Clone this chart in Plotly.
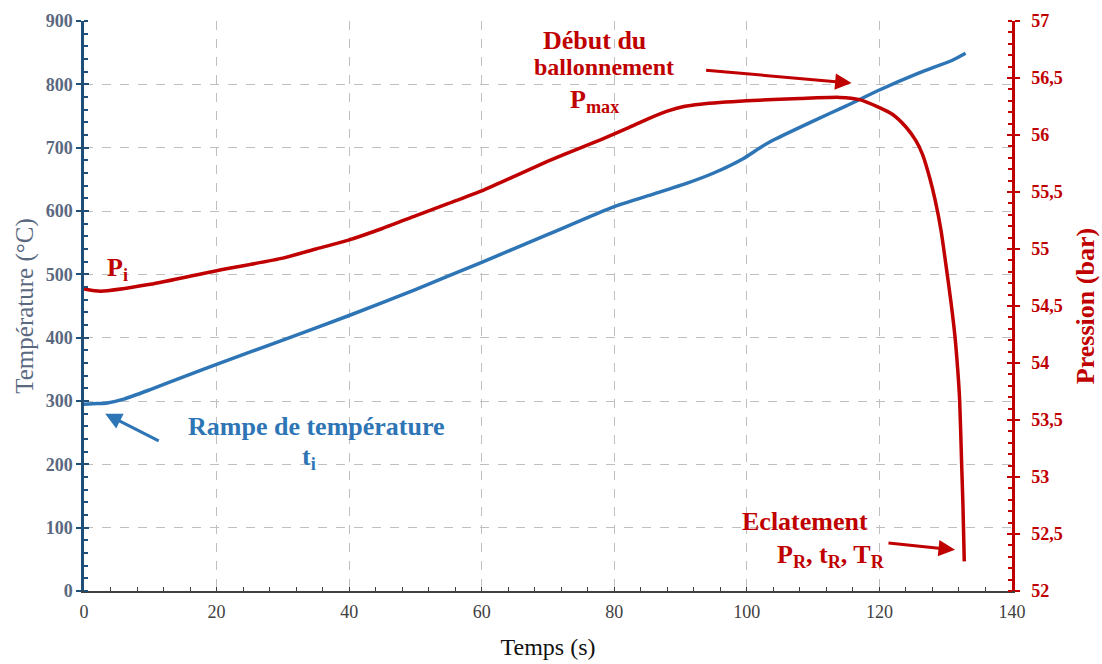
import plotly.graph_objects as go

# Temperature ramp (°C) versus time (s)
t_temp = [0, 2, 3.5, 6, 10, 15, 20, 30, 40, 50, 60, 70, 80, 86, 91, 95, 99.5, 102, 104,
          110, 115, 120, 126, 131, 133]
temperature = [295, 296, 297, 303, 318, 338, 358, 396, 435, 476, 519, 563, 607, 627, 644,
               660, 683, 700, 712, 742, 766, 791, 818, 838, 849]

# Internal pressure (bar) versus time (s)
t_pres = [0, 2.5, 10, 20, 30, 35, 40, 45, 50, 55, 60, 65, 70, 75, 78, 82, 85, 88, 90.5, 93,
          100, 108, 114, 117, 120, 122, 124, 125.5, 126.5, 127.6, 128.4, 129.3, 130.2,
          130.8, 131.4, 131.8, 132.1, 132.4, 132.6, 132.8]
pressure = [54.65, 54.63, 54.69, 54.81, 54.92, 55.00, 55.08, 55.18, 55.29, 55.40, 55.51,
            55.64, 55.77, 55.89, 55.96, 56.06, 56.14, 56.21, 56.25, 56.27, 56.30, 56.32,
            56.33, 56.31, 56.24, 56.18, 56.07, 55.95, 55.83, 55.62, 55.43, 55.16, 54.79,
            54.53, 54.23, 53.95, 53.68, 53.12, 52.75, 52.26]

# Axis ranges
time_range = [0, 140]
temp_range = [0, 900]
pres_range = [52, 57]

SERIF = "Liberation Serif"
BLUE = "#2E75B6"
RED = "#C00000"
NAVY = "#1F4E79"
SLATE = "#5A6880"
GRID = "#BFBFBF"

fig = go.Figure()
fig.add_trace(go.Scatter(x=t_temp, y=temperature, mode="lines",
                         line=dict(color=BLUE, width=3.5, shape="spline", smoothing=0.6),
                         yaxis="y", name="Température"))
fig.add_trace(go.Scatter(x=t_pres, y=pressure, mode="lines",
                         line=dict(color=RED, width=3.5, shape="spline", smoothing=0.6),
                         yaxis="y2", name="Pression"))

fig.update_layout(
    width=1102, height=664,
    margin=dict(l=84, r=90, t=21, b=73),
    paper_bgcolor="white", plot_bgcolor="white",
    showlegend=False,
    separators=", ",
    font=dict(family=SERIF),
    xaxis=dict(
        range=time_range, dtick=20, tick0=0, automargin=False,
        ticks="inside", ticklen=4, tickwidth=1.2, tickcolor="#404040",
        minor=dict(dtick=4, ticks="inside", ticklen=4, tickwidth=1.2,
                   tickcolor="#404040", showgrid=False),
        showline=True, linecolor="#404040", linewidth=1.5,
        showgrid=True, gridcolor=GRID, griddash="dash", gridwidth=1,
        zeroline=False,
        ticklabelstandoff=4,
        tickfont=dict(family=SERIF, size=18, color="#404040"),
        title=dict(text="Temps (s)", font=dict(family=SERIF, size=24, color="#111111"),
                   standoff=17),
    ),
    yaxis=dict(
        range=temp_range, dtick=100, tick0=0, automargin=False,
        ticks="outside", ticklen=5, tickwidth=2, tickcolor=NAVY,
        minor=dict(dtick=20, ticks="inside", ticklen=4, tickwidth=1.5,
                   tickcolor=NAVY, showgrid=False),
        showline=True, linecolor=NAVY, linewidth=2.5,
        showgrid=True, gridcolor=GRID, griddash="dash", gridwidth=1,
        zeroline=False,
        tickfont=dict(family=SERIF, size=18, color=SLATE, weight="bold"),
        title=dict(text="Température (°C)", font=dict(family=SERIF, size=25, color=SLATE),
                   standoff=5),
    ),
    yaxis2=dict(
        range=pres_range, dtick=0.5, tick0=52, overlaying="y", side="right", anchor="x",
        automargin=False,
        ticks="outside", ticklen=5, tickwidth=2, tickcolor=RED,
        minor=dict(dtick=0.1, ticks="inside", ticklen=4, tickwidth=1.5,
                   tickcolor=RED, showgrid=False),
        showline=True, linecolor=RED, linewidth=2.5,
        showgrid=False, zeroline=False,
        ticklabelstandoff=8,
        tickfont=dict(family=SERIF, size=18, color=RED, weight="bold"),
        title=dict(text="<b>Pression (bar)</b>", font=dict(family=SERIF, size=26, color=RED),
                   standoff=14),
    ),
    # inner halves of the major ticks, so they cross the axis lines
    yaxis3=dict(range=temp_range, dtick=100, tick0=0, overlaying="y", side="left",
                anchor="x", automargin=False, ticks="inside", ticklen=5, tickwidth=2,
                tickcolor=NAVY, showticklabels=False, showgrid=False, showline=False,
                zeroline=False),
    yaxis4=dict(range=pres_range, dtick=0.5, tick0=52, overlaying="y", side="right",
                anchor="x", automargin=False, ticks="inside", ticklen=5, tickwidth=2,
                tickcolor=RED, showticklabels=False, showgrid=False, showline=False,
                zeroline=False),
)

# placeholder traces so the tick-only overlay axes get drawn
fig.add_trace(go.Scatter(x=[None], y=[None], yaxis="y3", showlegend=False, hoverinfo="skip"))
fig.add_trace(go.Scatter(x=[None], y=[None], yaxis="y4", showlegend=False, hoverinfo="skip"))


def label(text, x, y, color, size=26):
    fig.add_annotation(text=f"<b>{text}</b>", x=x, y=y, xref="x", yref="y",
                       showarrow=False, xanchor="center", yanchor="middle",
                       font=dict(family=SERIF, size=size, color=color))


def arrow(x, y, ax, ay, color):
    fig.add_annotation(text="", x=x, y=y, xref="x", yref="y", ax=ax, ay=ay,
                       showarrow=True, arrowhead=2, arrowsize=1.1, arrowwidth=3,
                       arrowcolor=color)


# initial pressure
label("P<sub>i</sub>", 5.0, 508, RED)

# temperature ramp start
label("Rampe de température", 35.0, 260, BLUE)
label("t<sub>i</sub>", 34.0, 210, BLUE)
arrow(3.2, 280, 55, 28, BLUE)

# ballooning onset
label("Début du", 77.0, 870, RED)
label("ballonnement", 78.5, 828, RED, size=24)
label("P<sub>max</sub>", 77.0, 774, RED)
arrow(115.8, 802, -147, -13, RED)

# burst
label("Eclatement", 108.8, 110, RED)
label("P<sub>R</sub>, t<sub>R</sub>, T<sub>R</sub>", 112.7, 55, RED)
arrow(131.4, 65, -68, -7, RED)

fig.write_html("out.html")
